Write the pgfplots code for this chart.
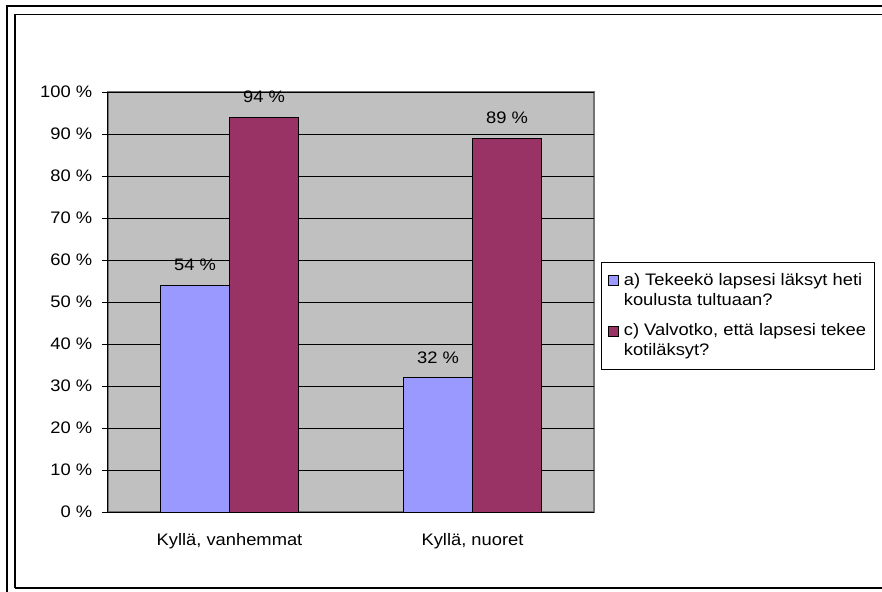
\documentclass[border=0pt]{standalone}
\usepackage{fontspec}
\setmainfont{Liberation Sans}[FakeStretch=1.1]
\usepackage{pgfplots}
\pgfplotsset{compat=1.18}
\definecolor{bgray}{HTML}{C0C0C0}
\definecolor{barA}{HTML}{9999FF}
\definecolor{barC}{HTML}{993366}
\begin{document}
\fontsize{12.5}{15}\selectfont
\begin{tikzpicture}
% page and frame (1px = 0.75pt)
\useasboundingbox (0,0) rectangle (661.5pt,-444pt);
\draw[line width=1.5pt] (4.875pt,-444pt) -- (4.875pt,-4.875pt) -- (661.5pt,-4.875pt);
\draw[line width=1.1pt] (11.25pt,-441pt) -- (11.25pt,-10.875pt) -- (661.5pt,-10.875pt);
\draw[line width=1.3pt] (11.25pt,-441pt) -- (661.5pt,-441pt);
\begin{axis}[
    at={(81pt,-384pt)}, anchor=south west,
    scale only axis,
    width=364.5pt, height=315pt,
    xmin=0, xmax=2, ymin=0, ymax=100,
    axis lines=left,
    axis line style={-, black, line width=0.75pt},
    axis background/.style={fill=bgray, draw=gray!90!black, line width=1.2pt},
    ytick={0,10,...,100},
    yticklabel={\pgfmathprintnumber{\tick} \%},
    /pgf/number format/assume math mode=true,
    ymajorgrids,
    grid style={black, line width=0.6pt},
    xtick={0.5,1.5},
    xticklabels={{Kyllä, vanhemmat},{Kyllä, nuoret}},
    minor xtick={0,1,2},
    tick align=outside,
    major tick length=4.5pt,
    minor tick length=4.5pt,
    xtick style={draw=none},
    minor tick style={black, line width=0.6pt},
    ytick style={black, line width=0.6pt},
    xticklabel style={yshift=-7.5pt},
    yticklabel style={xshift=-3pt},
    ybar,
    bar width=51.75pt,
    nodes near coords={\pgfmathprintnumber{\pgfplotspointmeta} \%},
    every node near coord/.append style={black, yshift=6pt},
    legend style={
        at={(1.0144,0.595)}, anchor=north west,
        draw=black, line width=0.75pt, fill=white,
        cells={anchor=west, align=left},
        row sep=8pt,
        inner xsep=4.5pt, inner ysep=6pt,
    },
    legend image code/.code={
        \draw[#1, line width=0.5pt] (0pt,3.75pt) rectangle (7.5pt,11.25pt);
        \path[draw=none, fill=none] (0pt,-11.25pt) rectangle (10pt,11.25pt);
    },
]
\addplot[fill=barA, draw=black, line width=0.75pt, bar shift=-25.875pt] coordinates {(0.5,54) (1.5,32)};
\addlegendentry{a) Tekeekö lapsesi läksyt heti\\koulusta tultuaan?}
\addplot[fill=barC, draw=black, line width=0.75pt, bar shift=25.875pt] coordinates {(0.5,94) (1.5,89)};
\addlegendentry{c) Valvotko, että lapsesi tekee\\kotiläksyt?}
\end{axis}
\end{tikzpicture}
\end{document}
